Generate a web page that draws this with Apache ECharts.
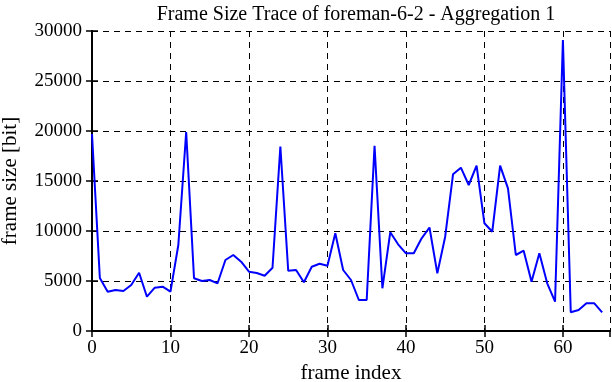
<!DOCTYPE html>
<html>
<head>
<meta charset="utf-8">
<title>Frame Size Trace</title>
<script src="https://cdn.jsdelivr.net/npm/echarts@6/dist/echarts.min.js"></script>
<style>
  html, body { margin: 0; padding: 0; background: #fff; }
  #chart { width: 612px; height: 382px; }
</style>
</head>
<body>
<div id="chart"></div>
<script>
// frame sizes in bit, one per frame index 0..65
var frameSizes = [
  19700, 5300, 3930, 4100, 4000, 4600, 5830, 3430, 4330, 4430,
  3930, 8600, 19900, 5270, 5000, 5100, 4770, 7100, 7600, 6930,
  5930, 5800, 5530, 6330, 18450, 6030, 6100, 4870, 6430, 6730,
  6530, 9770, 6100, 5100, 3100, 3100, 18530, 4270, 9870, 8670,
  7770, 7770, 9270, 10350, 5770, 9430, 15670, 16330, 14600, 16530,
  10770, 9930, 16530, 14270, 7600, 8030, 4930, 7770, 4770, 2930,
  29100, 1870, 2100, 2770, 2770, 1870
];
var xTicks = [0, 10, 20, 30, 40, 50, 60];
var yTicks = [0, 5000, 10000, 15000, 20000, 25000, 30000];

var points = frameSizes.map(function (v, i) { return [i, v]; });

var font = 'Liberation Serif';
var chart = echarts.init(document.getElementById('chart'));

var axisLine = { show: true, lineStyle: { color: '#000', width: 2 } };
var tick = { show: true, inside: true, length: 6, lineStyle: { color: '#000', width: 1.5 } };
var grid = { show: true, lineStyle: { color: '#000', type: [6, 5], width: 1 } };

chart.setOption({
  animation: false,
  title: {
    text: 'Frame Size Trace of foreman-6-2 - Aggregation 1',
    left: 351,
    textAlign: 'center',
    top: 0,
    textStyle: { fontFamily: font, fontSize: 20, fontWeight: 'normal', color: '#000' }
  },
  grid: { left: 92, right: 2, top: 31, bottom: 51, outerBoundsMode: 'none' },
  xAxis: [{
    type: 'value',
    min: 0, max: 66, interval: 10,
    name: 'frame index',
    nameLocation: 'middle',
    nameGap: 28,
    nameTextStyle: { fontFamily: font, fontSize: 21, color: '#000' },
    axisLine: axisLine,
    axisTick: tick,
    splitLine: grid,
    axisLabel: {
      fontFamily: font, fontSize: 19, color: '#000', margin: 8, showMaxLabel: false,
      formatter: function (v) { return xTicks.indexOf(v) >= 0 ? String(v) : ''; }
    }
  }, {
    type: 'value',
    position: 'top',
    min: 0, max: 66, interval: 10,
    axisLine: axisLine,
    axisTick: tick,
    splitLine: { show: false },
    axisLabel: { show: false }
  }],
  yAxis: [{
    type: 'value',
    min: 0, max: 30000, interval: 5000,
    name: 'frame size [bit]',
    nameLocation: 'middle',
    nameGap: 71,
    nameTextStyle: { fontFamily: font, fontSize: 21, color: '#000' },
    axisLine: axisLine,
    axisTick: tick,
    splitLine: grid,
    axisLabel: {
      fontFamily: font, fontSize: 19, color: '#000', margin: 10,
      formatter: function (v) { return yTicks.indexOf(v) >= 0 ? String(v) : ''; }
    }
  }, {
    type: 'value',
    position: 'right',
    min: 0, max: 30000, interval: 5000,
    axisLine: axisLine,
    axisTick: tick,
    splitLine: { show: false },
    axisLabel: { show: false }
  }],
  series: [{
    type: 'line',
    data: points,
    showSymbol: false,
    lineStyle: { color: '#0000ff', width: 2 },
    itemStyle: { color: '#0000ff' }
  }]
});
</script>
</body>
</html>
